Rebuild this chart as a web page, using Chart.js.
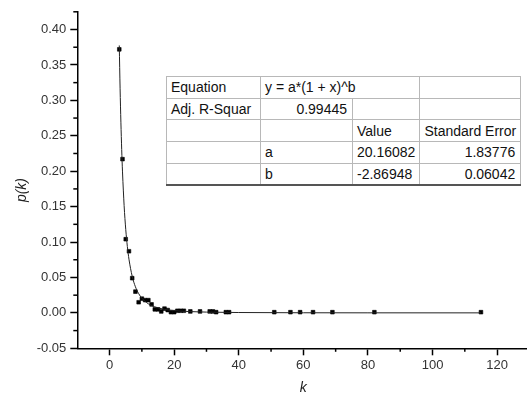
<!DOCTYPE html>
<html><head><meta charset="utf-8">
<script src="https://cdn.jsdelivr.net/npm/chart.js@4.4.1/dist/chart.umd.min.js"></script>
<style>
html,body{margin:0;padding:0;overflow:hidden;background:#fff;width:527px;height:394px;}
#wrap{position:absolute;left:0;top:0;width:534px;height:394px;}
#fit{position:absolute;left:166px;top:76px;border-collapse:collapse;table-layout:fixed;background:#fff;
  font-family:"Liberation Sans",Arial,sans-serif;font-size:14px;color:#111;border:1px solid #555;border-bottom:2px solid #555;}
#fit td{border:1px solid #b8b8b8;padding:0 4px;height:20.7px;white-space:nowrap;overflow:visible;line-height:16px;vertical-align:middle;}
#fit td.r{text-align:right;padding-right:5px;}
</style>
</head><body>
<div id="wrap"><canvas id="c" width="534" height="394"></canvas></div>
<table id="fit">
<colgroup><col style="width:94px"><col style="width:92px"><col style="width:65px"><col style="width:94px"></colgroup>
<tr><td>Equation</td><td colspan="2">y = a*(1 + x)^b</td><td></td></tr>
<tr><td>Adj. R-Squar</td><td class="r">0.99445</td><td></td><td></td></tr>
<tr><td></td><td></td><td>Value</td><td>Standard Error</td></tr>
<tr><td></td><td>a</td><td>20.16082</td><td class="r">1.83776</td></tr>
<tr><td></td><td>b</td><td>-2.86948</td><td class="r">0.06042</td></tr>
</table>
<script>
// observed degree distribution
const kValues = [3,4,5,6,7,8,9,10,11,12,13,14,15,16,17,18,19,20,21,22,23,25,28,31,32,33,36,37,51,56,59,63,69,82,115];
const pValues = [0.372,0.217,0.104,0.087,0.049,0.030,0.015,0.020,0.018,0.018,0.012,0.005,0.005,0.002,0.006,0.004,0.001,0.001,0.003,0.003,0.003,0.002,0.002,0.002,0.002,0.001,0.001,0.001,0.001,0.001,0.001,0.001,0.001,0.001,0.001];
// fitted curve samples
const fitK = [3,3.25,3.5,3.75,4,4.5,5,5.5,6,7,8,9,10,12,14,17,20,25,30,40,60,80,115];
const fitP = [0.3775,0.3172,0.2692,0.2306,0.1990,0.1514,0.1179,0.0937,0.0758,0.0517,0.0368,0.0272,0.0207,0.0128,0.0085,0.0050,0.0032,0.0018,0.0011,0.0005,0.00015,0.00007,0.00002];
// axis ticks
const xTickVals = [0,20,40,60,80,100,120];
const xMinorTicks = [10,30,50,70,90,110];
const yTickVals = [-0.05,0,0.05,0.10,0.15,0.20,0.25,0.30,0.35,0.40];
const yMinorTicks = [-0.025,0.025,0.075,0.125,0.175,0.225,0.275,0.325,0.375,0.425];
const xTitle = 'k';
const yTitle = 'p(k)';

const FONT = '"Liberation Sans", Arial, sans-serif';

const axisExtras = {
  id: 'axisExtras',
  afterDraw(chart) {
    const {ctx, scales: {x, y}, chartArea: a} = chart;
    ctx.save();
    ctx.strokeStyle = '#000';
    ctx.lineWidth = 1.5;
    xMinorTicks.forEach(v => {
      const px = x.getPixelForValue(v);
      ctx.beginPath(); ctx.moveTo(px, a.bottom); ctx.lineTo(px, a.bottom + 3.5); ctx.stroke();
    });
    yMinorTicks.forEach(v => {
      const py = y.getPixelForValue(v);
      ctx.beginPath(); ctx.moveTo(a.left, py); ctx.lineTo(a.left - 4, py); ctx.stroke();
    });
    ctx.fillStyle = '#222';
    ctx.font = 'italic 14px ' + FONT;
    ctx.textAlign = 'center';
    ctx.textBaseline = 'middle';
    ctx.fillText(xTitle, (a.left + a.right) / 2, 388);
    ctx.translate(22, (a.top + a.bottom) / 2 + 10);
    ctx.rotate(-Math.PI / 2);
    ctx.fillText(yTitle, 0, 0);
    ctx.restore();
  }
};

new Chart(document.getElementById('c'), {
  type: 'scatter',
  data: {
    datasets: [
      {
        type: 'line',
        data: fitK.map((k, i) => ({x: k, y: fitP[i]})),
        borderColor: '#222',
        borderWidth: 1,
        pointRadius: 0,
        cubicInterpolationMode: 'monotone',
        fill: false
      },
      {
        data: kValues.map((k, i) => ({x: k, y: pValues[i]})),
        pointStyle: 'rect',
        pointRadius: 2.6,
        pointBorderWidth: 0.6,
        backgroundColor: '#000',
        borderColor: '#000'
      }
    ]
  },
  options: {
    responsive: false,
    devicePixelRatio: 1,
    animation: false,
    layout: {padding: {top: 8.7, right: 2.2, left: 0, bottom: 0}},
    plugins: {legend: {display: false}, tooltip: {enabled: false}},
    scales: {
      x: {
        type: 'linear', min: -10, max: 130,
        afterBuildTicks: s => { s.ticks = xTickVals.map(v => ({value: v})); },
        afterFit: s => { s.height = 45.7; },
        grid: {display: true, drawOnChartArea: false, drawTicks: true, tickLength: 7, tickColor: '#000', tickWidth: 1.5},
        border: {display: true, color: '#000', width: 1.5},
        ticks: {color: '#333', font: {family: FONT, size: 13}, padding: 2, maxRotation: 0}
      },
      y: {
        type: 'linear', min: -0.05, max: 0.425,
        afterBuildTicks: s => { s.ticks = yTickVals.map(v => ({value: v})); },
        afterFit: s => { s.width = 77.3; },
        grid: {display: true, drawOnChartArea: false, drawTicks: true, tickLength: 7, tickColor: '#000', tickWidth: 1.5},
        border: {display: true, color: '#000', width: 1.5},
        ticks: {color: '#333', font: {family: FONT, size: 13}, padding: 4, callback: v => v.toFixed(2)}
      }
    }
  },
  plugins: [axisExtras]
});
</script>
</body></html>
